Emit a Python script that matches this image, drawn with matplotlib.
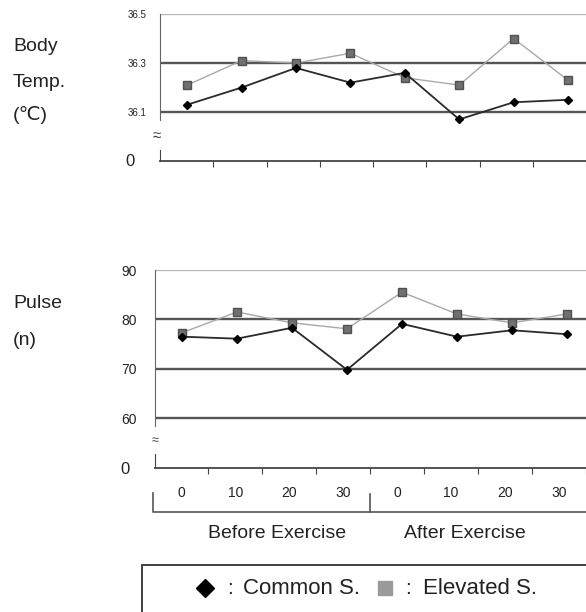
import matplotlib.pyplot as plt
from matplotlib.lines import Line2D
from matplotlib.patches import Rectangle

plt.rcParams["font.family"] = ["Liberation Sans", "DejaVu Sans"]

# data
minutes = ["0", "10", "20", "30", "0", "10", "20", "30"]
phases = ["Before Exercise", "After Exercise"]
common_temp = [36.13, 36.20, 36.28, 36.22, 36.26, 36.07, 36.14, 36.15]
elevated_temp = [36.21, 36.31, 36.30, 36.34, 36.24, 36.21, 36.40, 36.23]
common_pulse = [76.5, 76.1, 78.3, 69.8, 79.1, 76.5, 77.8, 77.0]
elevated_pulse = [77.3, 81.5, 79.3, 78.1, 85.5, 81.1, 79.3, 81.1]
temp_ticks = [36.1, 36.3, 36.5]
pulse_ticks = [60, 70, 80, 90]

W, H = 586, 612
fig = plt.figure(figsize=(5.86, 6.12), dpi=100)


def box(left, top, bottom, right=W):
    return [left / W, 1 - bottom / H, (right - left) / W, (bottom - top) / H]


def fx(x):
    return x / W


def fy(y):
    return 1 - y / H


x = list(range(len(minutes)))


def draw_panel(left, top, bottom, strip_top, strip_bottom, spacing, ylim,
               yticks, ylabels, ysize, light_lines, common, elevated):
    xlim = (-0.5, -0.5 + (W - left) / spacing)

    ax = fig.add_axes(box(left, top, bottom))
    ax.set_xlim(xlim)
    ax.set_ylim(ylim)
    for v in yticks:
        if v in light_lines:
            ax.axhline(v, color="#b8b8b8", lw=1.0, zorder=1)
        else:
            ax.axhline(v, color="#555555", lw=1.7, zorder=1)
    ax.plot(x, elevated, color="#a8a8a8", lw=1.0, marker="s", ms=5.5,
            mfc="#707070", mec="#505050", clip_on=False, zorder=3)
    ax.plot(x, common, color="#2a2a2a", lw=1.3, marker="D", ms=4.5,
            mfc="black", mec="black", clip_on=False, zorder=4)
    for s in ["top", "right", "bottom"]:
        ax.spines[s].set_visible(False)
    ax.spines["left"].set_color("#666666")
    ax.set_xticks([])
    ax.set_yticks(yticks)
    ax.set_yticklabels(ylabels, fontsize=ysize, color="#222222")
    ax.tick_params(axis="y", length=0, pad=13 if ysize > 9 else 10)

    strip = fig.add_axes(box(left, strip_top, strip_bottom))
    strip.set_xlim(xlim)
    strip.set_ylim(0, 1)
    for s in ["top", "right"]:
        strip.spines[s].set_visible(False)
    strip.spines["left"].set_color("#444444")
    strip.spines["bottom"].set_color("#444444")
    strip.spines["bottom"].set_linewidth(1.3)
    strip.set_yticks([0])
    strip.set_yticklabels(["0"], fontsize=12, color="#222222")
    strip.tick_params(axis="y", length=0, pad=18)
    strip.set_xticks([i + 0.5 for i in x])
    strip.set_xticklabels([])
    strip.tick_params(axis="x", direction="out", length=4, color="#444444")
    strip.patch.set_alpha(0)
    return strip


draw_panel(160, 14, 120.5, 150, 160.5, 54.4, (36.0656, 36.5),
           temp_ticks, ["36.1", "36.3", "36.5"], 7, [36.5],
           common_temp, elevated_temp)

strip = draw_panel(154.5, 270, 426, 454, 468, 55.0, (58.42, 90),
                   pulse_ticks, ["60", "70", "80", "90"], 10, [90],
                   common_pulse, elevated_pulse)
strip.set_xticks(x, minor=True)
strip.set_xticklabels(minutes, minor=True, fontsize=10, color="#222222")
strip.tick_params(axis="x", which="minor", length=0, pad=13)

# broken-axis marks
fig.text(fx(157), fy(136), "≈", fontsize=11, ha="center", va="center", color="#444444")
fig.text(fx(155), fy(441), "≈", fontsize=9, ha="center", va="center", color="#444444")

# row labels
fig.text(fx(13), fy(50.7), "Body", fontsize=14, color="#222222")
fig.text(fx(13), fy(86.7), "Temp.", fontsize=14, color="#222222")
fig.text(fx(13), fy(120), "(℃)", fontsize=14, color="#222222")
fig.text(fx(13), fy(308), "Pulse", fontsize=14, color="#222222")
fig.text(fx(13), fy(345), "(n)", fontsize=14, color="#222222")

# bracket under the minutes
fig.add_artist(Line2D([fx(152.7), fx(152.7), fx(W)], [fy(493), fy(511.7), fy(511.7)],
                      color="#555555", lw=1.2))
fig.add_artist(Line2D([fx(370), fx(370)], [fy(494), fy(511.7)], color="#555555", lw=1.2))
fig.text(fx(277), fy(534), phases[0], fontsize=14, ha="center", va="center", color="#222222")
fig.text(fx(465), fy(534), phases[1], fontsize=14, ha="center", va="center", color="#222222")

# legend box
fig.add_artist(Rectangle((fx(142), fy(650)), fx(W + 20) - fx(142), fy(565) - fy(650),
                         transform=fig.transFigure, fill=False, edgecolor="#333333", lw=1.3))
fig.add_artist(Line2D([fx(205)], [fy(588)], marker="D", ms=9, color="black", ls="none"))
fig.text(fx(230), fy(588), ":", fontsize=15, ha="center", va="center", color="#222222")
fig.text(fx(243), fy(588), "Common S.", fontsize=16, va="center", color="#222222")
fig.add_artist(Line2D([fx(385)], [fy(588)], marker="s", ms=10, color="#9a9a9a", ls="none"))
fig.text(fx(408), fy(588), ":", fontsize=15, ha="center", va="center", color="#222222")
fig.text(fx(423), fy(588), "Elevated S.", fontsize=16, va="center", color="#222222")

fig.savefig("out.png", dpi=100)
